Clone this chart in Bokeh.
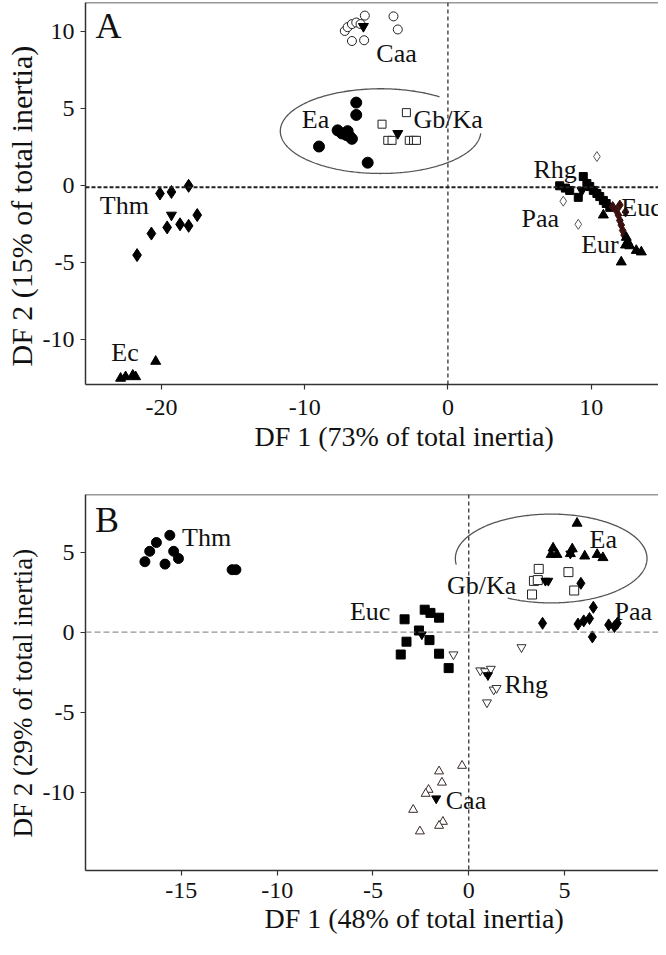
import numpy as np
from bokeh.plotting import figure
from bokeh.layouts import column
from bokeh.models import Span, FixedTicker, Range1d, Title
from bokeh.core.properties import value
from bokeh.embed import file_html
from bokeh.resources import INLINE

FONT = "Liberation Serif"

# ---------------- Panel A data ----------------
A_caa_x = [-7.2, -7.0, -6.7, -6.4, -6.1, -5.8, -3.8, -3.5, -6.7, -5.85]
A_caa_y = [10.05, 10.3, 10.5, 10.6, 10.5, 11.05, 11.0, 10.15, 9.4, 9.45]
A_ea_x = [-6.4, -6.4, -7.7, -7.4, -7.0, -6.85, -7.1, -6.7, -9.0, -5.6]
A_ea_y = [5.4, 4.6, 3.6, 3.4, 3.55, 3.2, 3.3, 3.05, 2.55, 1.5]
A_gbka_x = [-4.6, -2.9, -4.2, -3.9, -2.7, -2.4, -2.2]
A_gbka_y = [4.0, 4.75, 2.95, 2.95, 2.95, 2.95, 2.95]
A_thm_x = [-18.1, -20.1, -19.3, -17.5, -19.6, -18.7, -18.1, -20.7, -21.7]
A_thm_y = [0.0, -0.5, -0.4, -1.9, -2.7, -2.5, -2.6, -3.1, -4.5]
A_ec_x = [-20.4, -22.85, -22.5, -22.0, -21.8]
A_ec_y = [-11.4, -12.5, -12.4, -12.3, -12.4]
A_rhg_x = [7.8, 8.2, 8.5, 9.1, 9.45, 9.7, 9.9, 10.15, 10.4, 10.6, 10.85, 11.05, 11.3]
A_rhg_y = [0.0, -0.15, -0.3, -0.75, 0.6, 0.15, -0.05, -0.3, -0.5, -0.7, -0.95, -1.15, -1.4]
A_paa_x = [10.4, 8.05, 9.1]
A_paa_y = [1.9, -1.0, -2.5]
A_euc_x = [11.5, 11.75, 11.9, 12.0, 12.1, 12.2, 12.3, 12.0, 12.4]
A_euc_y = [-1.35, -1.6, -1.9, -2.25, -2.55, -2.9, -3.2, -1.25, -1.7]
A_eur_x = [10.85, 12.45, 12.55, 12.7, 12.4, 13.15, 13.5, 12.1]
A_eur_y = [-1.9, -3.35, -3.65, -3.9, -3.85, -4.2, -4.3, -4.95]
A_cent_x = [-5.9, -3.5, -19.3, 9.35]
A_cent_y = [10.35, 3.4, -1.9, -0.3]

A_labels = ["Caa", "Ea", "Gb/Ka", "Thm", "Ec", "Rhg", "Paa", "Euc", "Eur"]
A_label_x = [-5.0, -10.2, -2.4, -24.3, -23.5, 5.97, 5.14, 12.1, 9.3]
A_label_y = [8.6, 4.3, 4.3, -1.25, -10.8, 1.05, -2.1, -1.44, -3.8]

A_xticks = [-20, -10, 0, 10]
A_xtick_labels = ["-20", "-10", "0", "10"]
A_yticks = [-10, -5, 0, 5, 10]
A_ytick_labels = ["-10", "-5", "0", "5", "10"]
A_xtitle = "DF 1 (73% of total inertia)"
A_ytitle = "DF 2 (15% of total inertia)"

# ---------------- Panel B data ----------------
B_thm_x = [-15.6, -16.3, -16.65, -16.9, -15.85, -15.4, -15.15, -12.35, -12.15]
B_thm_y = [6.05, 5.6, 5.05, 4.4, 4.25, 5.05, 4.6, 3.9, 3.9]
B_euc_x = [-3.35, -2.3, -2.0, -1.55, -2.6, -3.25, -2.05, -3.55, -1.55, -1.05]
B_euc_y = [0.8, 1.4, 1.2, 0.9, 0.1, -0.6, -0.5, -1.4, -1.35, -2.25]
B_gbka_x = [3.65, 3.4, 3.3, 5.2, 5.5, 3.6]
B_gbka_y = [3.95, 3.2, 2.35, 3.75, 2.6, 3.25]
B_ea_x = [5.65, 4.4, 4.6, 4.3, 5.3, 5.4, 6.05, 6.7, 7.0]
B_ea_y = [6.8, 5.25, 4.85, 4.85, 4.9, 5.2, 4.75, 4.85, 4.65]
B_paa_x = [5.85, 6.5, 3.85, 5.7, 6.0, 6.3, 7.3, 7.6, 7.75, 6.45]
B_paa_y = [3.05, 1.55, 0.55, 0.5, 0.7, 0.85, 0.45, 0.35, 0.55, -0.3]
B_rhg_x = [-0.8, 2.75, 0.6, 0.85, 1.15, 1.3, 1.45, 0.95]
B_rhg_y = [-1.4, -0.95, -2.4, -2.45, -2.3, -3.6, -3.5, -4.4]
B_caa_x = [-0.35, -1.55, -1.4, -2.1, -2.25, -2.9, -1.35, -1.55, -2.55]
B_caa_y = [-8.35, -8.7, -9.4, -9.85, -10.1, -11.1, -11.85, -12.1, -12.45]
B_cent_x = [-2.45, 4.0, 4.15, 1.0, -1.7, 5.3]
B_cent_y = [-0.15, 3.2, 3.2, -2.7, -10.4, 4.9]

B_labels = ["Thm", "Euc", "Gb/Ka", "Ea", "Paa", "Rhg", "Caa"]
B_label_x = [-14.96, -6.2, -1.14, 6.3, 7.6, 1.87, -1.2]
B_label_y = [5.9, 1.27, 2.93, 5.77, 1.27, -3.3, -10.5]

B_xticks = [-15, -10, -5, 0, 5]
B_xtick_labels = ["-15", "-10", "-5", "0", "5"]
B_yticks = [-10, -5, 0, 5]
B_ytick_labels = ["-10", "-5", "0", "5"]
B_xtitle = "DF 1 (48% of total inertia)"
B_ytitle = "DF 2 (29% of total inertia)"

# group ellipses: centre x, centre y, width, height, gap start/end (deg)
A_ell = (-4.7, 3.55, 14.0, 5.5, -3, 54)
B_ell = (4.3, 4.6, 10.0, 5.55, 188, 243)


def make_fig(xr, yr, xt, xtl, yt, ytl, height, mtop, mbot, xstand):
    p = figure(width=658, height=height, x_range=Range1d(*xr), y_range=Range1d(*yr),
               output_backend="svg", toolbar_location=None,
               min_border_left=82, min_border_right=0,
               min_border_top=mtop, min_border_bottom=mbot)
    p.grid.visible = False
    p.outline_line_color = None
    p.background_fill_color = "white"
    p.border_fill_color = "white"
    for ax, ticks, labs in ((p.xaxis, xt, xtl), (p.yaxis, yt, ytl)):
        ax.ticker = FixedTicker(ticks=ticks)
        ax.major_label_overrides = {t: l for t, l in zip(ticks, labs)}
        ax.major_tick_in = 0
        ax.major_tick_out = 5
        ax.minor_tick_line_color = None
        ax.axis_line_color = "#333333"
        ax.axis_line_width = 1.5
        ax.major_tick_line_color = "#333333"
        ax.major_tick_line_width = 1.2
        ax.major_label_text_font = FONT
        ax.major_label_text_font_size = "24px"
        ax.major_label_text_color = "#111111"
    p.xaxis.major_label_standoff = xstand
    p.yaxis.major_label_standoff = 6
    p.add_layout(Span(location=yr[1], dimension="width", line_color="#333333", line_width=1.5))
    return p


def titles(p, xt, x_off, x_stand, yt, y_off, y_stand, ysize):
    p.add_layout(Title(text=xt, align="left", offset=x_off, standoff=x_stand,
                       text_font=FONT, text_font_size="28px", text_font_style="normal",
                       text_color="#111111"), "below")
    p.add_layout(Title(text=yt, align="left", offset=y_off, standoff=y_stand,
                       text_font=FONT, text_font_size=ysize, text_font_style="normal",
                       text_color="#111111"), "left")


def ellipse_arc(p, ell):
    cx, cy, w, h, g0, g1 = ell
    t = np.deg2rad(np.linspace(g1, g0 + 360, 300))
    p.line(cx + w / 2 * np.cos(t), cy + h / 2 * np.sin(t), line_color="#555555", line_width=1.3)


def labels(p, xs, ys, texts, size="26px"):
    p.text(x=xs, y=ys, text=texts, text_font=value(FONT), text_font_size=value(size),
           text_baseline="middle", text_align="left", text_color="#111111")


# ---------------- Panel A ----------------
pA = make_fig((-25.3, 14.7), (-12.9, 11.9), A_xticks, A_xtick_labels, A_yticks, A_ytick_labels,
              466, 2, 82, 10)
titles(pA, A_xtitle, 169, 2, A_ytitle, 18, 4, "30px")
pA.add_layout(Span(location=0, dimension="height", line_color="#222222", line_width=1.2, line_dash="4 3"))
pA.add_layout(Span(location=-0.1, dimension="width", line_color="#222222", line_width=2, line_dash="4 2"))
ellipse_arc(pA, A_ell)
pA.scatter(A_caa_x, A_caa_y, marker="circle", size=9, fill_color="white", line_color="#222222", line_width=1)
pA.scatter(A_ea_x, A_ea_y, marker="circle", size=11, fill_color="black", line_color="black")
pA.scatter(A_gbka_x, A_gbka_y, marker="square", size=8, fill_color="white", line_color="#222222", line_width=1)
pA.scatter(A_thm_x, A_thm_y, marker="diamond", size=13, fill_color="black", line_color="black")
pA.scatter(A_ec_x, A_ec_y, marker="triangle", size=10, fill_color="black", line_color="black")
pA.scatter(A_rhg_x, A_rhg_y, marker="square", size=8, fill_color="black", line_color="black")
pA.scatter(A_paa_x, A_paa_y, marker="diamond", size=10, fill_color="white", line_color="#555555", line_width=1)
pA.scatter(A_euc_x, A_euc_y, marker="diamond", size=10, fill_color="#3a1010", line_color="#3a1010")
pA.scatter(A_eur_x, A_eur_y, marker="triangle", size=10, fill_color="black", line_color="black")
pA.scatter(A_cent_x, A_cent_y, marker="inverted_triangle", size=10, fill_color="black", line_color="black")
labels(pA, A_label_x, A_label_y, A_labels)
labels(pA, [-24.6], [10.4], ["A"], size="36px")

# ---------------- Panel B ----------------
pB = make_fig((-20.0, 9.9), (-14.9, 8.6), B_xticks, B_xtick_labels, B_yticks, B_ytick_labels,
              473, 28, 69, 7)
titles(pB, B_xtitle, 179, 0, B_ytitle, 33, 4, "27px")
pB.add_layout(Span(location=0, dimension="height", line_color="#222222", line_width=1.2, line_dash="4 3"))
pB.add_layout(Span(location=0, dimension="width", line_color="#777777", line_width=1, line_dash="6 3"))
ellipse_arc(pB, B_ell)
pB.scatter(B_thm_x, B_thm_y, marker="circle", size=10, fill_color="black", line_color="black")
pB.scatter(B_euc_x, B_euc_y, marker="square", size=9, fill_color="black", line_color="black")
pB.scatter(B_gbka_x, B_gbka_y, marker="square", size=9, fill_color="white", line_color="#222222", line_width=1)
pB.scatter(B_ea_x, B_ea_y, marker="triangle", size=10, fill_color="black", line_color="black")
pB.scatter(B_paa_x, B_paa_y, marker="diamond", size=12, fill_color="black", line_color="black")
pB.scatter(B_rhg_x, B_rhg_y, marker="inverted_triangle", size=9, fill_color="white", line_color="#333333", line_width=1)
pB.scatter(B_caa_x, B_caa_y, marker="triangle", size=9, fill_color="white", line_color="#3a2a2a", line_width=1)
pB.scatter(B_cent_x, B_cent_y, marker="inverted_triangle", size=9, fill_color="black", line_color="black")
labels(pB, B_label_x, B_label_y, B_labels)
labels(pB, [-19.5], [7.0], ["B"], size="36px")

layout = column(pA, pB, spacing=0)
open("out.html", "w").write(file_html(layout, INLINE))
